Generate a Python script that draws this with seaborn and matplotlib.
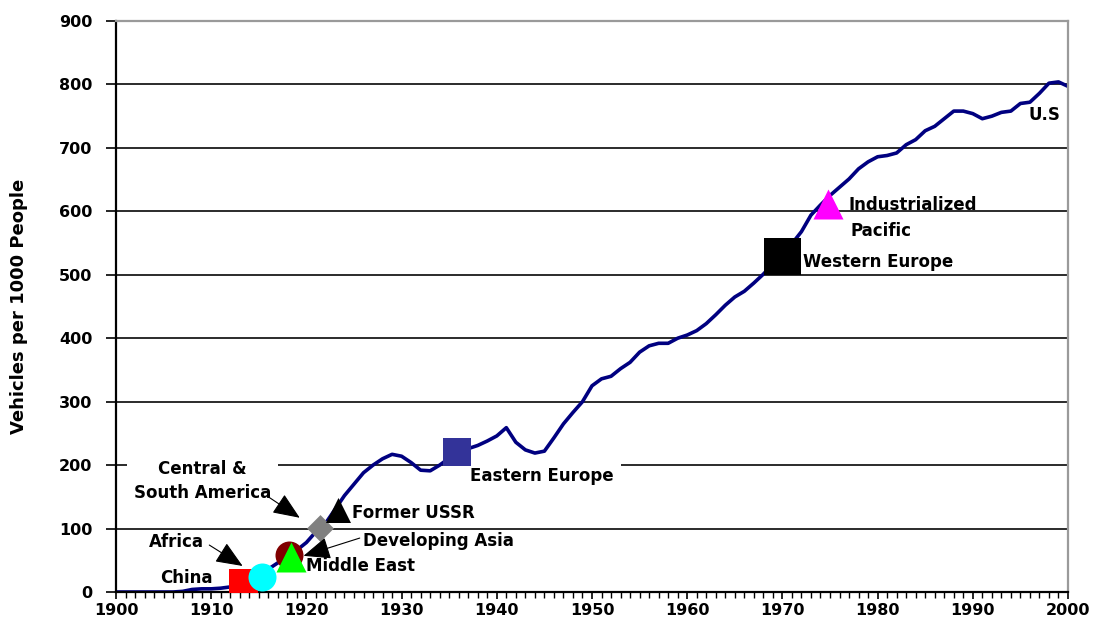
import numpy as np
import pandas as pd
import matplotlib
matplotlib.use("Agg")
import matplotlib.pyplot as plt
import seaborn as sns

# U.S. vehicles per 1000 people, one value per year 1900-2000
years = list(range(1900, 2001))
us_values = [
    0, 0, 0, 0, 0, 0, 0, 1, 4, 5,
    5, 6, 8, 13, 19, 26, 36, 46, 56, 66,
    78, 95, 108, 130, 152, 170, 188, 200, 210, 217,
    214, 204, 192, 191, 200, 211, 220, 226, 231, 238,
    246, 259, 236, 224, 219, 222, 243, 265, 283, 300,
    325, 336, 340, 352, 362, 378, 388, 392, 392, 400,
    405, 412, 423, 437, 452, 465, 474, 487, 501, 517,
    533, 549, 568, 594, 610, 625, 638, 651, 667, 678,
    686, 688, 692, 705, 713, 727, 734, 746, 758, 758,
    754, 746, 750, 756, 758, 770, 772, 786, 802, 804,
    797,
]

# where other regions stand today, placed on the U.S. curve
regions = ["China", "Africa", "Developing Asia", "Middle East",
           "Central & South America", "Former USSR", "Eastern Europe",
           "Western Europe", "Industrialized Pacific"]
region_year = [1913.3, 1915.3, 1918.2, 1918.4, 1921.4, 1923.3, 1935.8, 1970.0, 1974.8]
region_value = [14, 24, 58, 55, 101, 130, 221, 529, 612]
region_marker = ["s", "o", "o", "^", "D", "^", "s", "s", "^"]
region_color = ["#FF0000", "#00FFFF", "#800000", "#00FF00", "#808080",
                "#000000", "#333399", "#000000", "#FF00FF"]
region_size_px = [29, 28, 28, 30, 19, 25, 28, 37, 30]

y_ticks = list(range(0, 1000, 100))
x_ticks = list(range(1900, 2010, 10))

sns.set_style("white")
plt.rcParams["font.family"] = ["DejaVu Sans"]
plt.rcParams["text.color"] = "black"
plt.rcParams["axes.labelcolor"] = "black"
plt.rcParams["xtick.color"] = "black"
plt.rcParams["ytick.color"] = "black"

fig = plt.figure(figsize=(10.95, 6.25), dpi=100)
ax = fig.add_axes([116 / 1095, 33 / 625, 952 / 1095, 571 / 625])

df = pd.DataFrame({"year": years, "vehicles": us_values})
sns.lineplot(data=df, x="year", y="vehicles", color="#000080", lw=2.6,
             ax=ax, zorder=2)

for yr, val, m, c, px in zip(region_year, region_value, region_marker,
                             region_color, region_size_px):
    sns.scatterplot(x=[yr], y=[val], marker=m, color=c, s=(px * 0.72) ** 2,
                    linewidth=0, ax=ax, zorder=3)

ax.set_xlim(1900, 2000)
ax.set_ylim(0, 900)
ax.set_xticks(x_ticks)
ax.set_xticks(years, minor=True)
ax.set_yticks(y_ticks)
ax.set_xticklabels([str(t) for t in x_ticks], fontsize=11.5, fontweight="bold")
ax.set_yticklabels([str(t) for t in y_ticks], fontsize=11.5, fontweight="bold")
ax.tick_params(axis="y", direction="out", length=7, width=1.2, pad=10,
               left=True)
ax.tick_params(axis="x", which="major", direction="out", length=5, width=1.2,
               pad=3, bottom=True)
ax.tick_params(axis="x", which="minor", direction="out", length=4, width=1.0,
               bottom=True)

ax.set_axisbelow(True)
ax.yaxis.grid(True, color="#1a1a1a", lw=1.3)
ax.xaxis.grid(False)
for side in ["left", "bottom"]:
    ax.spines[side].set_color("black")
    ax.spines[side].set_linewidth(1.6)
for side in ["top", "right"]:
    ax.spines[side].set_color("#9a9a9a")
    ax.spines[side].set_linewidth(1.6)

ax.set_xlabel("")
ax.set_ylabel("Vehicles per 1000 People", fontsize=13, fontweight="bold",
              labelpad=22)

lab = dict(fontsize=12, fontweight="bold", va="center", zorder=1.5)
white = dict(facecolor="white", edgecolor="none", pad=5)
ax.text(1909.05, 175, "Central &\nSouth America", ha="center",
        linespacing=1.45, bbox=white, **lab)
ax.text(1906.3, 79, "Africa", ha="center", **lab)
ax.text(1907.4, 22, "China", ha="center", **lab)
ax.text(1924.8, 124, "Former USSR", ha="left", **lab)
ax.text(1925.9, 80, "Developing Asia", ha="left", **lab)
ax.text(1920.0, 41, "Middle East", ha="left", **lab)
ax.text(1937.2, 183, "Eastern Europe", ha="left", bbox=white, **lab)
ax.text(1972.2, 520, "Western Europe", ha="left", **lab)
ax.text(1976.9, 610, "Industrialized", ha="left", **lab)
ax.text(1977.2, 569, "Pacific", ha="left", **lab)
ax.text(1995.8, 752, "U.S", ha="left", **lab)

arrow = dict(arrowstyle="-|>,head_length=1.2,head_width=0.5",
             mutation_scale=14, color="black", lw=0.8, shrinkA=0, shrinkB=0)
ax.annotate("", xy=(1913.3, 41), xytext=(1909.8, 74), arrowprops=arrow, zorder=4)
ax.annotate("", xy=(1919.3, 117), xytext=(1915.9, 151), arrowprops=arrow, zorder=4)
ax.annotate("", xy=(1919.7, 57), xytext=(1925.6, 85), arrowprops=arrow, zorder=4)

fig.savefig("out.png", dpi=100)
